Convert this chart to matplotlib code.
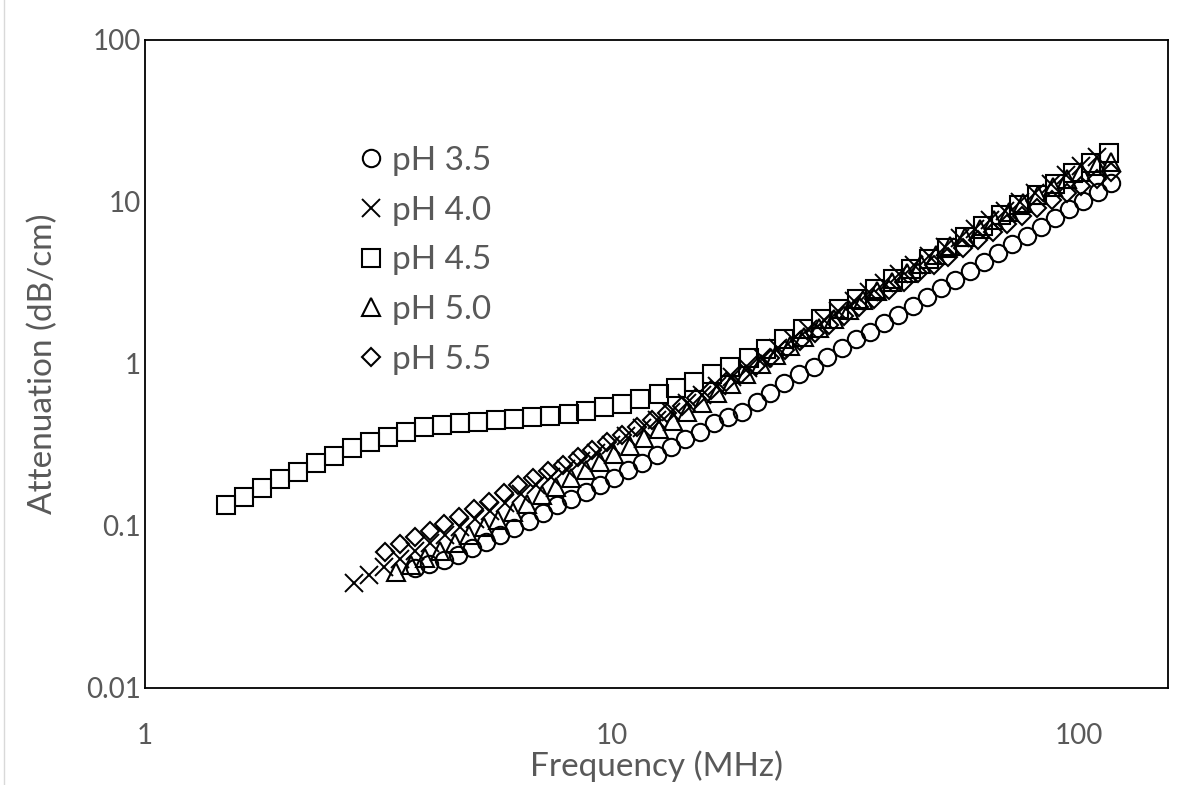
import matplotlib
matplotlib.use('Agg')
from matplotlib import pyplot as plt
from matplotlib.lines import Line2D
from matplotlib.ticker import NullLocator

# pH 3.5 (circles)
freq_35 = [3.78, 4.06, 4.36, 4.67, 5.01, 5.37, 5.76, 6.18, 6.63, 7.11,
           7.63, 8.18, 8.78, 9.42, 10.1, 10.8, 11.6, 12.5, 13.4, 14.3,
           15.4, 16.5, 17.7, 19.0, 20.4, 21.8, 23.4, 25.1, 27.0, 28.9,
           31.0, 33.3, 35.7, 38.3, 41.0, 44.0, 47.2, 50.7, 54.3, 58.3,
           62.5, 67.1, 71.9, 77.2, 82.8, 88.8, 95.2, 102, 110, 117]
att_35 = [0.0551, 0.0583, 0.0617, 0.0662, 0.0731, 0.0797, 0.0880, 0.0972, 0.107, 0.120,
          0.135, 0.147, 0.162, 0.179, 0.198, 0.222, 0.245, 0.274, 0.307, 0.344,
          0.380, 0.432, 0.471, 0.505, 0.583, 0.662, 0.763, 0.867, 0.958, 1.10,
          1.26, 1.43, 1.58, 1.79, 2.01, 2.28, 2.58, 2.93, 3.32, 3.76,
          4.26, 4.83, 5.47, 6.20, 7.02, 7.96, 9.02, 10.2, 11.6, 13.1]

# pH 4.0 (crosses)
freq_40 = [2.80, 3.02, 3.25, 3.51, 3.78, 4.07, 4.39, 4.73, 5.09, 5.49,
           5.91, 6.37, 6.86, 7.40, 7.97, 8.59, 9.25, 9.97, 10.7, 11.6,
           12.5, 13.4, 14.5, 15.6, 16.8, 18.1, 19.5, 21.0, 22.7, 24.4,
           26.3, 28.4, 30.5, 32.9, 35.5, 38.2, 41.2, 44.4, 47.8, 51.5,
           55.5, 59.8, 64.4, 69.4, 74.8, 80.6, 86.9, 93.6, 101, 109]
att_40 = [0.0445, 0.0498, 0.0558, 0.0626, 0.0701, 0.0785, 0.0880, 0.0986, 0.110, 0.124,
          0.139, 0.158, 0.179, 0.201, 0.225, 0.252, 0.282, 0.316, 0.359, 0.403,
          0.451, 0.505, 0.574, 0.644, 0.731, 0.831, 0.945, 1.09, 1.26, 1.43,
          1.64, 1.87, 2.12, 2.45, 2.78, 3.16, 3.59, 4.08, 4.64, 5.28,
          6.00, 6.81, 7.74, 8.80, 10.0, 11.4, 12.9, 14.7, 16.7, 19.0]

# pH 4.5 (squares)
freq_45 = [1.49, 1.63, 1.78, 1.95, 2.13, 2.32, 2.54, 2.78, 3.03, 3.32,
           3.62, 3.96, 4.33, 4.73, 5.17, 5.65, 6.18, 6.75, 7.38, 8.07,
           8.81, 9.63, 10.5, 11.5, 12.6, 13.7, 15.0, 16.4, 17.9, 19.6,
           21.4, 23.4, 25.6, 28.0, 30.6, 33.4, 36.5, 39.9, 43.7, 47.7,
           52.1, 57.0, 62.3, 68.1, 74.4, 81.3, 88.9, 97.1, 106, 116]
att_45 = [0.135, 0.151, 0.172, 0.195, 0.215, 0.245, 0.270, 0.303, 0.330, 0.354,
          0.380, 0.408, 0.420, 0.430, 0.440, 0.450, 0.458, 0.470, 0.478, 0.490,
          0.510, 0.540, 0.567, 0.608, 0.653, 0.711, 0.774, 0.867, 0.958, 1.09,
          1.24, 1.43, 1.64, 1.90, 2.19, 2.52, 2.90, 3.35, 3.86, 4.45,
          5.20, 6.08, 7.11, 8.31, 9.58, 11.0, 12.9, 15.1, 17.4, 20.1]

# pH 5.0 (triangles)
freq_50 = [3.45, 3.71, 3.98, 4.28, 4.60, 4.94, 5.31, 5.70, 6.13, 6.59,
           7.08, 7.60, 8.17, 8.78, 9.44, 10.1, 10.9, 11.7, 12.6, 13.5,
           14.5, 15.6, 16.8, 18.0, 19.4, 20.8, 22.4, 24.0, 25.8, 27.8,
           29.8, 32.1, 34.4, 37.0, 39.8, 42.8, 45.9, 49.4, 53.0, 57.0,
           61.2, 65.8, 70.7, 76.0, 81.7, 87.8, 94.3, 101, 109, 117]
att_50 = [0.0520, 0.0574, 0.0635, 0.0701, 0.0785, 0.0880, 0.0986, 0.109, 0.122, 0.137,
          0.155, 0.174, 0.198, 0.222, 0.248, 0.278, 0.312, 0.349, 0.397, 0.445,
          0.505, 0.574, 0.662, 0.753, 0.867, 1.00, 1.14, 1.29, 1.47, 1.67,
          1.90, 2.15, 2.48, 2.82, 3.21, 3.65, 4.14, 4.71, 5.35, 6.08,
          6.81, 7.74, 8.67, 9.86, 11.0, 12.4, 13.9, 15.3, 16.7, 17.7]

# pH 5.5 (diamonds)
freq_55 = [3.27, 3.51, 3.78, 4.07, 4.37, 4.71, 5.06, 5.45, 5.86, 6.30,
           6.78, 7.29, 7.85, 8.44, 9.08, 9.77, 10.5, 11.3, 12.2, 13.1,
           14.1, 15.1, 16.3, 17.5, 18.9, 20.3, 21.8, 23.5, 25.3, 27.2,
           29.2, 31.4, 33.8, 36.4, 39.1, 42.1, 45.3, 48.8, 52.4, 56.4,
           60.7, 65.3, 70.2, 75.6, 81.3, 87.4, 94.1, 101, 109, 117]
att_55 = [0.0691, 0.0774, 0.0855, 0.0931, 0.103, 0.114, 0.127, 0.141, 0.160, 0.179,
          0.198, 0.219, 0.238, 0.267, 0.294, 0.330, 0.365, 0.408, 0.451, 0.499,
          0.551, 0.617, 0.691, 0.774, 0.867, 0.972, 1.09, 1.22, 1.39, 1.55,
          1.74, 1.98, 2.25, 2.52, 2.86, 3.21, 3.65, 4.08, 4.57, 5.20,
          5.82, 6.53, 7.31, 8.20, 9.18, 10.3, 11.4, 12.6, 13.9, 15.3]

labels = ['pH 3.5', 'pH 4.0', 'pH 4.5', 'pH 5.0', 'pH 5.5']
xticks = [1, 10, 100]
yticks = [0.01, 0.1, 1, 10, 100]
ytick_labels = ['0.01', '0.1', '1', '10', '100']

plt.rcParams['font.family'] = ['Lato', 'DejaVu Sans']
grey = '#595959'

fig = plt.figure(figsize=(12.03, 7.85), dpi=100)
ax = fig.add_axes([145 / 1203, 1 - 688 / 785, (1168 - 145) / 1203, (688 - 40) / 785])

series = [
    (freq_35, att_35, 'o', 12.5, 1.5),
    (freq_40, att_40, 'x', 13, 1.4),
    (freq_45, att_45, 's', 13, 1.5),
    (freq_50, att_50, '^', 13, 1.5),
    (freq_55, att_55, 'D', 9.5, 1.5),
]
for (f, a, m, ms, mew), lab in zip(series, labels):
    ax.plot(f, a, linestyle='none', marker=m, ms=ms, mfc='none', mec='black',
            mew=mew, label=lab)

ax.set_xscale('log')
ax.set_yscale('log')
ax.set_xlim(1, 155)
ax.set_ylim(0.01, 100)
ax.set_xticks(xticks)
ax.set_xticklabels([str(t) for t in xticks])
ax.set_yticks(yticks)
ax.set_yticklabels(ytick_labels)
ax.xaxis.set_minor_locator(NullLocator())
ax.yaxis.set_minor_locator(NullLocator())
ax.tick_params(axis='both', length=0, labelsize=20, labelcolor=grey)
ax.tick_params(axis='x', pad=25)
ax.tick_params(axis='y', pad=3)
for sp in ax.spines.values():
    sp.set_linewidth(1.3)
    sp.set_color('black')

ax.set_xlabel('Frequency (MHz)', fontsize=24, color=grey, labelpad=1)
ax.set_ylabel('Attenuation (dB/cm)', fontsize=24, color=grey, labelpad=20)

ax.legend(loc='upper left', bbox_to_anchor=(358 / 1203, 1 - 146 / 785),
          bbox_transform=fig.transFigure, frameon=False, fontsize=24,
          handlelength=0.8, handletextpad=0.23, borderpad=0, borderaxespad=0,
          labelspacing=0.59, markerscale=1.0, labelcolor=grey)

# light chart-area border on the left
fig.add_artist(Line2D([4 / 1203, 4 / 1203], [0, 1], color='#d9d9d9', lw=1))

fig.savefig('out.png', dpi=100)
